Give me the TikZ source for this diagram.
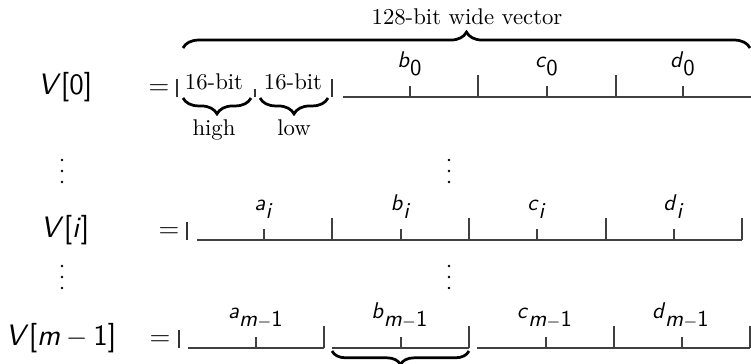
\documentclass[tikz,border=0pt]{standalone}
\usetikzlibrary{decorations.pathreplacing}
\newcommand\mS[1]{\textsf{\textit{#1}}}
\newcommand\mU[1]{\textsf{#1}}
\begin{document}
\begin{tikzpicture}[x=0.44pt,y=-0.44pt,
  seg/.style={draw=black!75,line width=0.5pt},
  bar/.style={draw=black!80,line width=0.6pt},
  lab/.style={anchor=base,inner sep=0pt},
  big/.style={lab,font=\fontsize{13}{15}\selectfont},
  eqs/.style={lab,font=\fontsize{13}{15}\selectfont},
  brc/.style={decorate,decoration={brace,amplitude=#1},line width=1.2pt},
  dotc/.style={fill=black}]
\useasboundingbox (0,0) rectangle (751,364);

% top brace and title
\draw[brc=7pt] (183,48) -- (750,48);
\node[lab] (title) at (467,25) {128-bit wide vector};

% ---------- row 0 ----------
\node[big] (v0) at (65,95) {$\mS{V}\mU{[0]}$};
\node[eqs] (e0) at (159,95) {$=$};
\draw[bar] (177,97) -- (177,79);
\node[lab] (s1) at (214,90) {16-bit};
\node[lab] (s2) at (293,90) {16-bit};
\draw[bar] (255,97) -- (255,89);
\draw[bar] (332,97) -- (332,79);
\draw[brc=7pt] (251,98) -- (183,98);
\draw[brc=7pt] (328,98) -- (260,98);
\node[lab] (hi) at (214,136) {high};
\node[lab] (lo) at (294,136) {low};
\draw[seg] (343,97) -- (751,97);
\foreach \x in {478,616} \draw[seg] (\x,97) -- (\x,75);
\foreach \x in {410,547,683} \draw[seg] (\x,97) -- (\x,86);
\node[lab] (b0) at (410,68) {$\mS{b}_{\mU{0}}$};
\node[lab] (c0) at (547,68) {$\mS{c}_{\mU{0}}$};
\node[lab] (d0) at (683,68) {$\mS{d}_{\mU{0}}$};

% vertical ellipses
\foreach \x in {62,449} {
  \foreach \y in {160,171,182} \fill[dotc] (\x,\y) circle[radius=0.65pt];
  \foreach \y in {266,277,288} \fill[dotc] (\x,\y) circle[radius=0.65pt];
}

% ---------- row i ----------
\node[big] (vi) at (65,238) {$\mS{V}\mU{[}\mS{i}\mU{]}$};
\node[eqs] (ei) at (169,238) {$=$};
\draw[bar] (187,240) -- (187,222);
\draw[seg] (197,240) -- (742,240);
\foreach \x in {332,469,606,742} \draw[seg] (\x,240) -- (\x,218);
\foreach \x in {264,401,537,674} \draw[seg] (\x,240) -- (\x,229);
\node[lab] (ai) at (264,211) {$\mS{a}_{\mS{i}}$};
\node[lab] (bi) at (401,211) {$\mS{b}_{\mS{i}}$};
\node[lab] (ci) at (537,211) {$\mS{c}_{\mS{i}}$};
\node[lab] (di) at (674,211) {$\mS{d}_{\mS{i}}$};

% ---------- row m-1 ----------
\node[big] (vm) at (61,346) {$\mS{V}\mU{[}\mS{m}-\mU{1]}$};
\node[eqs] (em) at (160,346) {$=$};
\draw[bar] (179,348) -- (179,330);
\draw[seg] (188,348) -- (324,348);
\draw[seg] (332,348) -- (469,348);
\draw[seg] (477,348) -- (750,348);
\foreach \x in {324,469,614,750} \draw[seg] (\x,348) -- (\x,326);
\foreach \x in {256,401,546,682} \draw[seg] (\x,348) -- (\x,337);
\draw[brc=6pt] (469,351) -- (332,351);
\node[lab] (am) at (256,319) {$\mS{a}_{\mS{m}-\mU{1}}$};
\node[lab] (bm) at (400,319) {$\mS{b}_{\mS{m}-\mU{1}}$};
\node[lab] (cm) at (545,319) {$\mS{c}_{\mS{m}-\mU{1}}$};
\node[lab] (dm) at (681,319) {$\mS{d}_{\mS{m}-\mU{1}}$};
\end{tikzpicture}
\end{document}
